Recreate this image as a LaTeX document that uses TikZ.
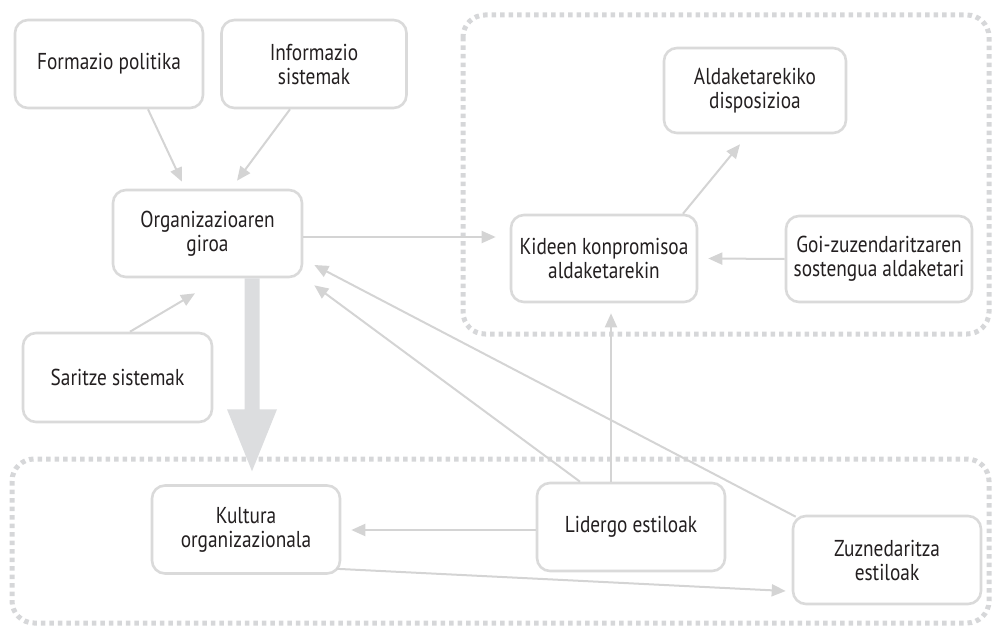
\documentclass[tikz,border=0pt]{standalone}
\usepackage{fontspec}
\setmainfont{PT Sans}[FakeStretch=0.84]
\usetikzlibrary{arrows.meta,calc}
\definecolor{boxline}{HTML}{DADADA}
\definecolor{arrline}{HTML}{D4D4D4}
\definecolor{zoneline}{HTML}{D6D7D9}
\definecolor{bigarrow}{HTML}{DCDDDF}
\definecolor{ink}{HTML}{231F20}
\begin{document}
\begin{tikzpicture}[x=1pt,y=-1pt,
  box/.style={draw=boxline,line width=2.6pt,rounded corners=13pt,fill=white,
    minimum width=188pt,minimum height=88pt,align=center,text=ink,
    font=\fontsize{23}{24}\selectfont,inner sep=0pt},
  link/.style={draw=arrline,line width=2pt,-{Triangle[length=14pt,width=12pt]}},
  zone/.style={draw=zoneline,line width=5pt,dash pattern=on 4.5pt off 4pt,rounded corners=22pt}]
\useasboundingbox (0,0) rectangle (992,626);
% dotted regions
\draw[zone] (463,15) rectangle (989,334);
\draw[zone] (12,459) rectangle (989,623);
% boxes
\node[box] (fp) at (109,64) {Formazio politika};
\node[box,minimum width=185pt] (is) at (314,64) {Informazio\\sistemak};
\node[box,minimum width=189pt,minimum height=87pt] (og) at (207.5,233.5) {Organizazioaren\\giroa};
\node[box,minimum width=189pt,minimum height=89pt] (ss) at (117.5,377.5) {Saritze sistemak};
\node[box] (ko) at (246,529.5) {Kultura\\organizazionala};
\node[box] (le) at (631,527) {Lidergo estiloak};
\node[box] (ze) at (887,560) {Zuznedaritza\\estiloak};
\node[box,minimum width=182pt,minimum height=85pt] (ad) at (755,90.5) {Aldaketarekiko\\disposizioa};
\node[box,minimum width=186pt,minimum height=87pt] (kk) at (604,258.5) {Kideen konpromisoa\\aldaketarekin};
\node[box,minimum width=186pt,minimum height=86pt] (gz) at (879,259) {Goi-zuzendaritzaren\\sostengua aldaketari};
% connectors
\path[link] ([xshift=39pt]fp.south) -- ([xshift=-25.5pt,yshift=7pt]og.north);
\path[link] ([xshift=-24pt]is.south) -- ([xshift=29.5pt,yshift=8pt]og.north);
\path[link] ([xshift=12.5pt]ss.north) -- ([xshift=-12.5pt,yshift=-15pt]og.south);
\path[link] ([yshift=-3.5pt]og.east) -- ([xshift=-14pt,yshift=21.5pt]kk.west);
\path[link] ([xshift=79pt]kk.north) -- ([xshift=-15pt,yshift=-10pt]ad.south);
\path[link] (gz.west) -- ([xshift=10pt]kk.east);
\path[link] ([xshift=-20pt]le.north) -- ([xshift=7pt,yshift=-10pt]kk.south);
\path[link] ([xshift=-51pt]le.north) -- ([xshift=11pt,yshift=-7pt]og.south east);
\path[link] ([xshift=4pt,yshift=-2pt]ze.north west) -- ([xshift=11pt,yshift=-31.5pt]og.east);
\path[link] ([yshift=-3pt]le.west) -- ([xshift=10pt,yshift=-0.5pt]ko.east);
\path[link] ([xshift=-5pt,yshift=6pt]ko.south east) -- ([xshift=-6pt,yshift=-31pt]ze.west);
% broad arrow from the climate box down into the culture region
\coordinate (bt) at ([xshift=44.5pt]og.south);
\fill[bigarrow] ($(bt)+(-7.5,0)$) -- ($(bt)+(7.5,0)$) -- ($(bt)+(7.5,131)$) -- ($(bt)+(25,131)$)
  -- ($(bt)+(0,193)$) -- ($(bt)+(-25,131)$) -- ($(bt)+(-7.5,131)$) -- cycle;
\end{tikzpicture}
\end{document}
